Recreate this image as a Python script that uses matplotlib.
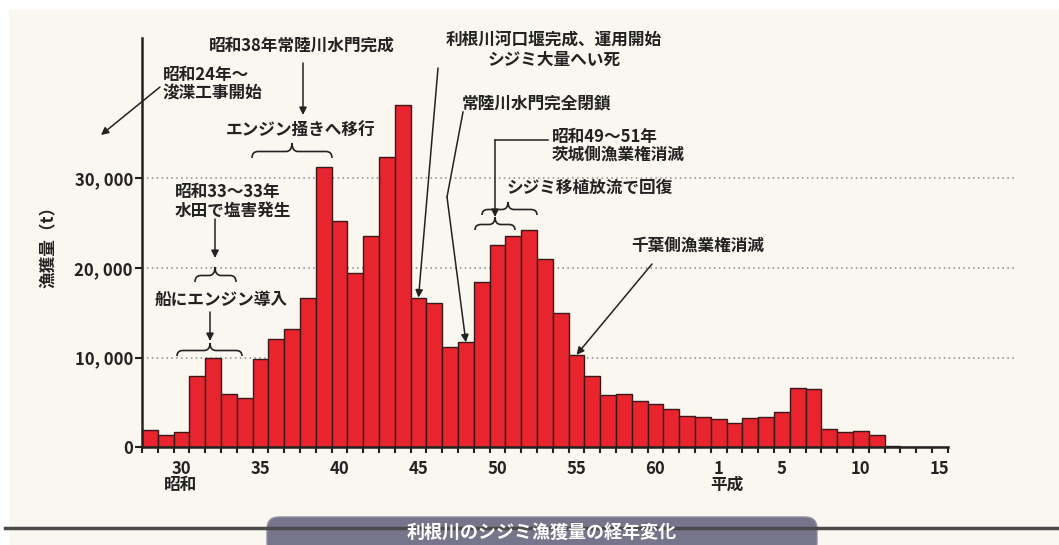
import matplotlib
matplotlib.use('Agg')
import matplotlib.pyplot as plt
from matplotlib.transforms import Affine2D
from matplotlib.path import Path
from matplotlib.patches import PathPatch, FancyBboxPatch, Rectangle
from matplotlib.lines import Line2D

plt.rcParams['font.family'] = ['Noto Sans CJK JP', 'DejaVu Sans']
plt.rcParams['font.weight'] = 'bold'

# ---- data (Showa-era year numbers; Heisei n = Showa 63 + n) ----
years = list(range(28, 79))
catch = [1900, 1350, 1650, 7950, 9900, 5900, 5450, 9850, 12100, 13200,
         16600, 31300, 25200, 19400, 23600, 32400, 38200, 16700, 16100, 11200,
         11700, 18400, 22600, 23600, 24200, 21000, 15000, 10300, 7900, 5800,
         5900, 5150, 4800, 4250, 3500, 3350,
         3150, 2700, 3250, 3300, 3900, 6550, 6450, 2000, 1650, 1800,
         1350, 150, 0, 0, 0]
tick_years = [30, 35, 40, 45, 50, 55, 60, 64, 68, 73, 78]
tick_labels = ['30', '35', '40', '45', '50', '55', '60', '1', '5', '10', '15']
y_ticks = [0, 10000, 20000, 30000]
era_labels = ['昭和', '平成']
title = '利根川のシジミ漁獲量の経年変化'
ylabel = '漁獲量（t）'


def val(y):
    return catch[years.index(y)]


W, H = 1059, 545
BG = '#faf7f0'
fig = plt.figure(figsize=(W / 100, H / 100), dpi=100, facecolor=BG)
pix = Affine2D().scale(1 / W, -1 / H).translate(0, 1) + fig.transFigure
pixu = Affine2D().scale(1 / W, 1 / H) + fig.transFigure

# white border strips
fig.patches.append(Rectangle((0, 0), W, 9, transform=pix, color='white', zorder=0))
fig.patches.append(Rectangle((0, 0), 8, H, transform=pix, color='white', zorder=0))

ax = fig.add_axes([142 / W, 1 - 447 / H, (1015 - 142) / W, (447 - 38) / H])
ax.set_facecolor('none')
px_per_year = 15.8
x_lo = years[0] - 0.5
ax.set_xlim(x_lo, x_lo + (1015 - 142) / px_per_year)
ax.set_ylim(0, (447 - 38) / 89.5 * 10000)

ax.bar(years, catch, width=1.0, color='#e8242f', edgecolor='#3a1818',
       linewidth=1.0, zorder=3)

for s in ['top', 'right']:
    ax.spines[s].set_visible(False)
ax.spines['bottom'].set_bounds(years[0] - 0.5, years[-1] + 0.5)
for s in ['bottom', 'left']:
    ax.spines[s].set_linewidth(1.8)
    ax.spines[s].set_color('#222222')
    ax.spines[s].set_zorder(4)

ax.set_yticks(y_ticks)
ax.set_yticklabels([f'{v:,}'.replace(',', ', ') for v in y_ticks])
ax.tick_params(axis='y', direction='out', length=5, width=1.5, pad=1.5,
               labelsize=12, colors='#222222')
ax.yaxis.grid(True, linestyle=(0, (1, 2.2)), color='#8a8a8a', linewidth=1.1)
ax.get_ygridlines()[0].set_visible(False)
ax.set_axisbelow(True)

ax.set_xticks(tick_years)
ax.set_xticklabels(tick_labels)
ax.set_xticks([y - 0.5 for y in years] + [years[-1] + 0.5], minor=True)
ax.tick_params(axis='x', which='major', length=0, pad=9, labelsize=12,
               colors='#222222')
ax.tick_params(axis='x', which='minor', direction='out', length=4, width=1.5,
               color='#222222')

# era labels and y label
fig.text(181, 485, era_labels[0], transform=pix, ha='center', va='center',
         fontsize=12, color='#222222')
fig.text(727, 485, era_labels[1], transform=pix, ha='center', va='center',
         fontsize=12, color='#222222')
fig.text(49, 243, ylabel, transform=pix, ha='center', va='center',
         rotation=90, fontsize=12, color='#222222')

TXT = dict(transform=pix, fontsize=12, color='#222222')
AP = dict(arrowstyle='-|>', color='#222222', lw=1.1, mutation_scale=11,
          shrinkA=0, shrinkB=0)


def brace(x0, x1, yt, yb, xc=None, r=6):
    if xc is None:
        xc = (x0 + x1) / 2
    ym = (yt + yb) / 2 + 1
    verts = [(x0, yb), (x0, ym), (x0 + r, ym), (xc - r, ym), (xc, ym), (xc, yt),
             (xc, ym), (xc + r, ym), (x1 - r, ym), (x1, ym), (x1, yb)]
    codes = [Path.MOVETO, Path.CURVE3, Path.CURVE3, Path.LINETO, Path.CURVE3,
             Path.CURVE3, Path.CURVE3, Path.CURVE3, Path.LINETO, Path.CURVE3,
             Path.CURVE3]
    fig.patches.append(PathPatch(Path(verts, codes), transform=pix, fill=False,
                                 lw=1.2, edgecolor='#222222'))


def arrow_pix(p0, p1):
    ax.annotate('', xy=p1, xycoords=pix, xytext=p0, textcoords=pix,
                arrowprops=AP, annotation_clip=False)


def arrow_bar(p0, year):
    ax.annotate('', xy=(year, val(year)), xycoords='data', xytext=p0,
                textcoords=pix, arrowprops=AP, annotation_clip=False)


def line_pix(xs, ys):
    fig.add_artist(Line2D(xs, ys, transform=pix, color='#222222', lw=1.1))


# 昭和24年～ 浚渫工事開始
fig.text(163, 84, '昭和24年～\n浚渫工事開始', ha='left', va='center',
         linespacing=1.05, **TXT)
arrow_pix((160, 87), (101, 135))

# 昭和38年常陸川水門完成
fig.text(302, 46, '昭和38年常陸川水門完成', ha='center', va='center', **TXT)
arrow_pix((303, 63), (303, 115))
fig.text(301, 131, 'エンジン掻きへ移行', ha='center', va='center', **TXT)
brace(252, 332, 143, 158, xc=292)

# 昭和33～33年 水田で塩害発生
fig.text(175, 201, '昭和33～33年\n水田で塩害発生', ha='left', va='center',
         linespacing=1.05, **TXT)
arrow_pix((215, 219), (215, 258))
brace(195, 236, 267, 282, xc=215)

# 船にエンジン導入
fig.text(221, 300, '船にエンジン導入', ha='center', va='center', **TXT)
arrow_pix((210, 312), (210, 341))
brace(177, 242, 343, 356, xc=210)

# 利根川河口堰完成
fig.text(554, 50, '利根川河口堰完成、運用開始\nシジミ大量へい死', ha='center',
         va='center', linespacing=1.1, **TXT)
arrow_bar((438, 68), 45)

# 常陸川水門完全閉鎖
fig.text(537, 103, '常陸川水門完全閉鎖', ha='center', va='center', **TXT)
line_pix([463, 447], [112, 197])
arrow_bar((447, 197), 48)

# 昭和49～51年 茨城側漁業権消滅
fig.text(552, 146, '昭和49～51年\n茨城側漁業権消滅', ha='left', va='center',
         linespacing=1.05, **TXT)
line_pix([548, 495], [140, 140])
arrow_pix((495, 140), (495, 217))
brace(475, 515, 217, 230, xc=495)

# シジミ移植放流で回復
fig.text(590, 188, 'シジミ移植放流で回復', ha='center', va='center', **TXT)
brace(482, 537, 202, 215, xc=508)

# 千葉側漁業権消滅
fig.text(698, 247, '千葉側漁業権消滅', ha='center', va='center', **TXT)
arrow_bar((652, 264), 55)

# bottom rule and title box
fig.add_artist(Line2D([5, W], [528, 528], transform=pix, color='#4a4a4a', lw=2.5))
fig.patches.append(FancyBboxPatch((267, H - 555), 550, 38,
                                  boxstyle='round,pad=0,rounding_size=12',
                                  transform=pixu, facecolor='#77758b',
                                  edgecolor='#8f8da0', lw=1))
fig.text(542, 533, title, transform=pix, ha='center', va='center',
         fontsize=13, color='white')

fig.savefig('out.png', dpi=100, facecolor=BG)
